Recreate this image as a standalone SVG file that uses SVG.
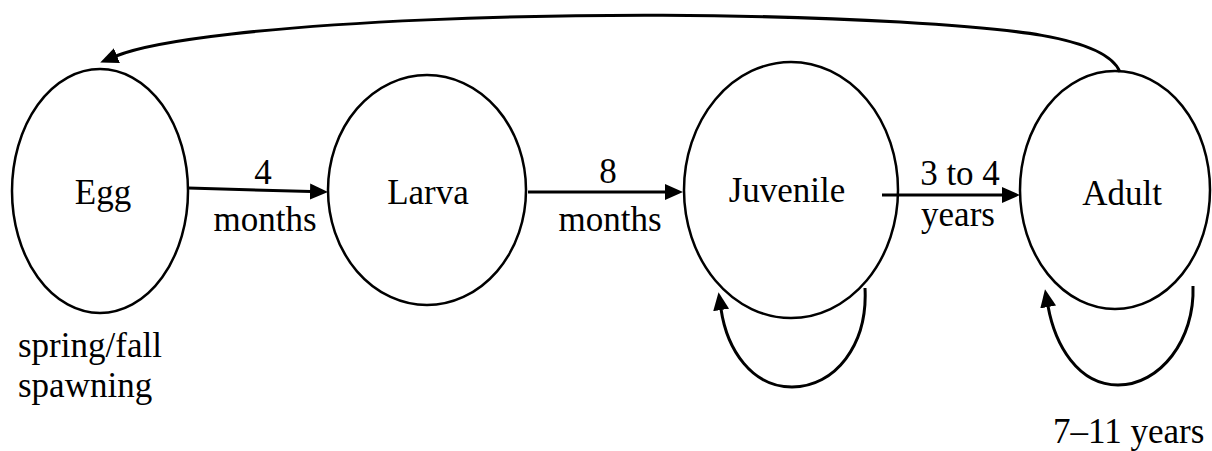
<svg xmlns="http://www.w3.org/2000/svg" width="1212" height="451" viewBox="0 0 1212 451">
<defs>
<marker id="ah" markerUnits="userSpaceOnUse" markerWidth="20" markerHeight="18" refX="1" refY="8" orient="auto">
<path d="M0,0 L18,8 L0,16 z" fill="#000" stroke="none"/>
</marker>
</defs>
<g id="egg"><ellipse cx="100" cy="191" rx="88" ry="122" fill="#fff" stroke="#000" stroke-width="2.5"/><text x="103" y="204" font-family="Times New Roman" font-size="35" text-anchor="middle">Egg</text></g>
<g id="larva"><ellipse cx="427" cy="190" rx="99" ry="115" fill="#fff" stroke="#000" stroke-width="2.5"/><text x="428" y="204" font-family="Times New Roman" font-size="35" text-anchor="middle">Larva</text></g>
<g id="juvenile"><ellipse cx="791" cy="190" rx="107" ry="128" fill="#fff" stroke="#000" stroke-width="2.5"/><text x="787" y="202" font-family="Times New Roman" font-size="35" text-anchor="middle">Juvenile</text></g>
<g id="adult"><ellipse cx="1115" cy="190" rx="95" ry="119" fill="#fff" stroke="#000" stroke-width="2.5"/><text x="1122" y="205" font-family="Times New Roman" font-size="35" text-anchor="middle">Adult</text></g>
<g id="connectors" fill="none" stroke="#000" stroke-width="3" marker-end="url(#ah)">
<path d="M188,188 L311,191.5"/>
<path d="M528,192 L666,192"/>
<path d="M882,195 L1003,195"/>
<path d="M1120,72 C1105,35 1000,28 900,22 C600,5 200,22 116,56"/>
<path d="M865,288 C868,345 835,387 792,387 C752,387 727,350 721,309"/>
<path d="M1193,286 C1195,340 1160,385 1118,385 C1078,385 1055,345 1048,306"/>
</g>
<g id="labels">
<text x="263" y="184" font-family="Times New Roman" font-size="35" text-anchor="middle">4</text>
<text x="265" y="231" font-family="Times New Roman" font-size="35" text-anchor="middle">months</text>
<text x="608" y="183" font-family="Times New Roman" font-size="35" text-anchor="middle">8</text>
<text x="610" y="231" font-family="Times New Roman" font-size="35" text-anchor="middle">months</text>
<text x="960" y="185" font-family="Times New Roman" font-size="35" text-anchor="middle">3 to 4</text>
<text x="958" y="226" font-family="Times New Roman" font-size="35" text-anchor="middle">years</text>
<text x="18" y="357" font-family="Times New Roman" font-size="35">spring/fall</text>
<text x="18" y="397" font-family="Times New Roman" font-size="35">spawning</text>
<text x="1053" y="443" font-family="Times New Roman" font-size="35">7–11 years</text>
</g>
</svg>
